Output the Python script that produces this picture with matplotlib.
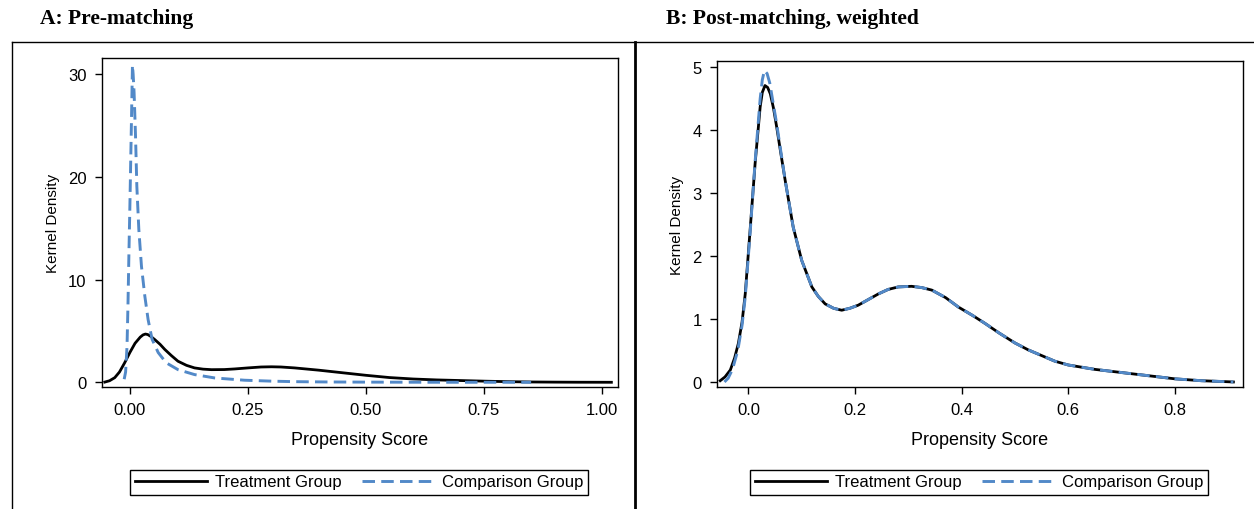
import numpy as np
import matplotlib
matplotlib.use('Agg')
import matplotlib.pyplot as plt
from matplotlib.lines import Line2D

'''
Kernel density of the propensity score, before and after matching.
'''

# Panel A: pre-matching
pre_treat_x = [-0.053, -0.043, -0.032, -0.022, -0.011, 0.0, 0.011, 0.022, 0.028, 0.033, 0.038,
               0.045, 0.053, 0.064, 0.074, 0.088, 0.102, 0.12, 0.137, 0.155, 0.173, 0.2, 0.222,
               0.25, 0.278, 0.30, 0.32, 0.349, 0.40, 0.45, 0.50, 0.55, 0.60, 0.65, 0.70, 0.75,
               0.80, 0.85, 0.90, 0.95, 1.02]
pre_treat_y = [0.02, 0.15, 0.45, 1.0, 1.9, 2.9, 3.8, 4.4, 4.62, 4.7, 4.65, 4.45, 4.15, 3.7, 3.2,
               2.6, 2.05, 1.65, 1.4, 1.28, 1.23, 1.24, 1.3, 1.4, 1.49, 1.51, 1.49, 1.4, 1.18,
               0.93, 0.68, 0.46, 0.32, 0.23, 0.17, 0.11, 0.06, 0.03, 0.015, 0.005, 0.0]

pre_comp_x = [-0.012, -0.009, -0.006, -0.004, -0.002, 0.0, 0.002, 0.004, 0.0055, 0.007, 0.009,
              0.012, 0.0148, 0.019, 0.0246, 0.0317, 0.0387, 0.047, 0.06, 0.077, 0.102, 0.137,
              0.18, 0.243, 0.30, 0.349, 0.42, 0.50, 0.60, 0.70, 0.85]
pre_comp_y = [0.3, 1.0, 3.5, 7.5, 12.5, 17.0, 22.0, 27.0, 30.9, 30.0, 28.2, 24.0, 19.1, 14.9,
              11.3, 8.4, 6.1, 4.2, 2.9, 1.9, 1.23, 0.75, 0.42, 0.2, 0.11, 0.06, 0.03, 0.015,
              0.005, 0.0, 0.0]

# Panel B: post-matching, weighted
post_treat_x = [-0.053, -0.044, -0.034, -0.026, -0.019, -0.012, -0.006, 0.003, 0.0125, 0.022,
                0.026, 0.031, 0.036, 0.041, 0.047, 0.053, 0.061, 0.069, 0.084, 0.10, 0.119,
                0.131, 0.144, 0.16, 0.175, 0.19, 0.206, 0.225, 0.244, 0.262, 0.281, 0.306,
                0.325, 0.344, 0.37, 0.394, 0.42, 0.444, 0.47, 0.50, 0.525, 0.55, 0.575, 0.60,
                0.65, 0.70, 0.75, 0.80, 0.85, 0.91]
post_treat_y = [0.02, 0.08, 0.19, 0.38, 0.61, 0.95, 1.4, 2.4, 3.47, 4.37, 4.6, 4.71, 4.68, 4.58,
                4.35, 4.05, 3.62, 3.2, 2.46, 1.93, 1.51, 1.36, 1.24, 1.17, 1.14, 1.17, 1.22,
                1.31, 1.40, 1.47, 1.51, 1.52, 1.5, 1.46, 1.34, 1.19, 1.06, 0.93, 0.78, 0.62,
                0.51, 0.42, 0.33, 0.27, 0.20, 0.15, 0.10, 0.05, 0.02, 0.0]

post_comp_x = [-0.045, -0.038, -0.03, -0.02, -0.012, -0.006, 0.003, 0.0125, 0.022, 0.026,
               0.030, 0.035, 0.040, 0.047, 0.053, 0.061, 0.069, 0.084, 0.10, 0.119, 0.131,
               0.144, 0.16, 0.175, 0.19, 0.206, 0.225, 0.244, 0.262, 0.281, 0.306, 0.325,
               0.344, 0.37, 0.394, 0.42, 0.444, 0.47, 0.50, 0.525, 0.55, 0.575, 0.60, 0.65,
               0.70, 0.75, 0.80, 0.85, 0.91]
post_comp_y = [0.0, 0.06, 0.2, 0.5, 0.9, 1.35, 2.35, 3.5, 4.5, 4.8, 4.95, 4.9, 4.75, 4.4, 4.1,
               3.65, 3.2, 2.46, 1.93, 1.51, 1.36, 1.24, 1.17, 1.14, 1.17, 1.22, 1.31, 1.40,
               1.47, 1.51, 1.52, 1.5, 1.46, 1.34, 1.19, 1.06, 0.93, 0.78, 0.62, 0.51, 0.42,
               0.33, 0.27, 0.20, 0.15, 0.10, 0.05, 0.02, 0.0]

pre_xticks = [0, 0.25, 0.5, 0.75, 1.0]
pre_xlabels = ['0.00', '0.25', '0.50', '0.75', '1.00']
pre_yticks = [0, 10, 20, 30]
post_xticks = [0, 0.2, 0.4, 0.6, 0.8]
post_xlabels = ['0.0', '0.2', '0.4', '0.6', '0.8']
post_yticks = [0, 1, 2, 3, 4, 5]

W, H = 1254, 510
blue = '#5289c8'

plt.rcParams['font.family'] = ['Liberation Sans', 'DejaVu Sans']
plt.rcParams['lines.scale_dashes'] = False

fig = plt.figure(figsize=(W / 100, H / 100), dpi=100)

def px_axes(l, r, t, b):
    return fig.add_axes([l / W, 1 - b / H, (r - l) / W, (b - t) / H])

ax1 = px_axes(102, 618, 59, 388)
ax2 = px_axes(717, 1243, 62, 388)

panels = [
    (ax1, pre_treat_x, pre_treat_y, pre_comp_x, pre_comp_y, pre_xticks, pre_xlabels, pre_yticks,
     (-0.059, 1.034), (-0.46, 31.6), 359),
    (ax2, post_treat_x, post_treat_y, post_comp_x, post_comp_y, post_xticks, post_xlabels,
     post_yticks, (-0.059, 0.928), (-0.08, 5.1), 979),
]

for ax, tx, ty, cx, cy, xt, xl, yt, xlim, ylim, leg_x in panels:
    ax.plot(tx, ty, color='black', lw=2.0, label='Treatment Group', zorder=3)
    ax.plot(cx, cy, color=blue, lw=2.1, dashes=(9, 4.5), label='Comparison Group', zorder=4)
    ax.set_xlim(*xlim)
    ax.set_ylim(*ylim)
    ax.set_xticks(xt)
    ax.set_xticklabels(xl)
    ax.set_yticks(yt)
    ax.tick_params(labelsize=12, length=5, width=1, pad=6)
    for s in ax.spines.values():
        s.set_linewidth(1.0)
    ax.set_xlabel('Propensity Score', fontsize=13, labelpad=10)
    ax.set_ylabel('Kernel Density', fontsize=11, labelpad=6)
    ax.legend(loc='center', bbox_to_anchor=(leg_x / W, 1 - 483 / H),
              bbox_transform=fig.transFigure, ncol=2, fontsize=12, frameon=True,
              fancybox=False, edgecolor='black', framealpha=1, handlelength=4.3,
              handletextpad=0.5, columnspacing=1.2, borderpad=0.3)
    ax.get_legend().get_frame().set_linewidth(1.0)

# panel frames
def fig_line(xs, ys, lw):
    fig.add_artist(Line2D([x / W for x in xs], [1 - y / H for y in ys],
                          transform=fig.transFigure, color='black', lw=lw))

fig_line([12, 12], [43, 515], 1.0)
fig_line([12, 1254], [43, 43], 1.0)
fig_line([635, 635], [43, 515], 2.0)

fig.text(40 / W, 1 - 19 / H, 'A: Pre-matching', fontsize=15.5, fontweight='bold',
         family=['Liberation Serif', 'DejaVu Serif'], va='center')
fig.text(666 / W, 1 - 19 / H, 'B: Post-matching, weighted', fontsize=15.5, fontweight='bold',
         family=['Liberation Serif', 'DejaVu Serif'], va='center')

plt.savefig('out.png', dpi=100)
